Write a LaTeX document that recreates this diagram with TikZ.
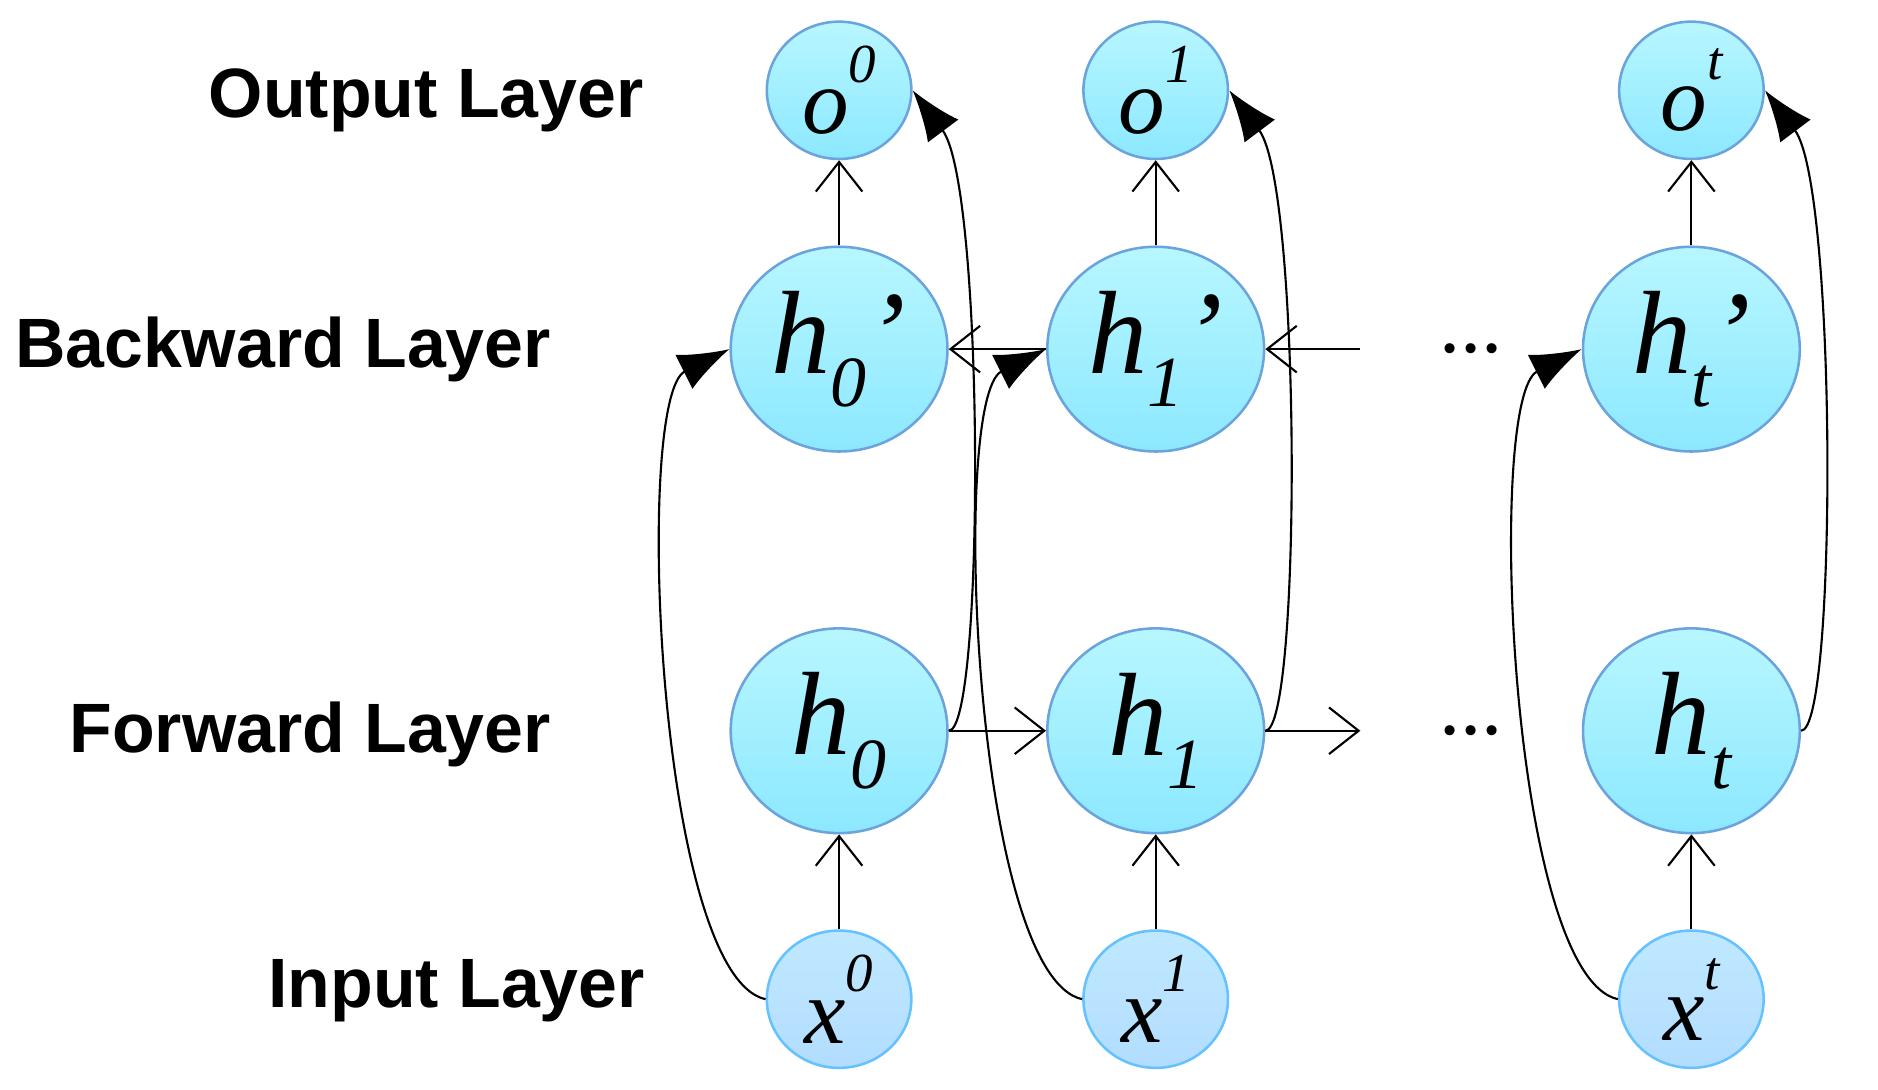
\documentclass[tikz,border=0pt]{standalone}
\usepackage{fontspec}
\setmainfont{Liberation Serif}
\newfontfamily\lblfont{Liberation Sans}
\usetikzlibrary{shapes.geometric,arrows.meta,calc}
\newcommand{\mysub}[1]{\raisebox{-0.28em}{\fontsize{17pt}{17pt}\selectfont #1}}
\newcommand{\mysup}[1]{\raisebox{0.55em}{\fontsize{13pt}{13pt}\selectfont #1}}
\begin{document}
\begin{tikzpicture}[x=0.01cm,y=-0.01cm,
  big/.style={ellipse,draw=cyan!60!blue!60,line width=0.6pt,top color=blue!12!cyan!28,bottom color=blue!20!cyan!45,minimum width=1.8cm,minimum height=1.7cm,inner sep=0pt,font=\fontsize{28pt}{28pt}\selectfont\itshape},
  small/.style={ellipse,draw=cyan!60!blue!60,line width=0.6pt,top color=blue!12!cyan!28,bottom color=blue!20!cyan!45,minimum width=1.2cm,minimum height=1.14cm,inner sep=0pt,font=\fontsize{22pt}{22pt}\selectfont\itshape},
  inp/.style={small,top color=blue!35!cyan!25,bottom color=blue!45!cyan!30,draw=blue!40!cyan!60},
  lbl/.style={font=\lblfont\bfseries\fontsize{16.5pt}{17pt}\selectfont,anchor=east},
  thin/.style={-{Straight Barb[length=7pt,width=11pt]},line width=0.5pt},
  curv/.style={-{Latex[length=12pt,width=9pt]},line width=0.5pt}]
\useasboundingbox (0,0) rectangle (1560,905);
\foreach \i/\x/\s in {0/697/0,1/960/1,t/1405/t}{
  \node[small] (o\i) at (\x,75) {o\mysup{\s}};
  \node[big] (hp\i) at (\x,290) {h\mysub{\s}’};
  \node[big] (h\i) at (\x,607) {h\mysub{\s}};
  \node[inp] (x\i) at (\x,830) {x\mysup{\s}};
  \draw[thin] (x\i.north) -- (h\i.south);
  \draw[thin] (hp\i.north) -- (o\i.south);
  \draw[curv] (x\i.west) .. controls ($(x\i.west)+(-90,-20)$) and ($(hp\i.west)+(-80,40)$) .. (hp\i.west);
  \draw[curv] (h\i.east) .. controls ($(h\i.east)+(30,0)$) and ($(o\i.east)+(60,80)$) .. (o\i.east);
}
\node[lbl] (lo) at (547,83) {Output Layer};
\node[lbl] (lb) at (470,290) {Backward Layer};
\node[lbl] (lf) at (470,610) {Forward Layer};
\node[lbl] (li) at (548,823) {Input Layer};
\node[font=\fontsize{20pt}{20pt}\selectfont] (d1) at (1222,290) {...};
\node[font=\fontsize{20pt}{20pt}\selectfont] (d2) at (1222,607) {...};
\coordinate (ef) at (1130,607);
\coordinate (eb) at (1130,290);
\draw[thin] (h0.east) -- (h1.west);
\draw[thin] (h1.east) -- (ef);
\draw[thin] (eb) -- (hp1.east);
\draw[thin] (hp1.west) -- (hp0.east);
\end{tikzpicture}
\end{document}
